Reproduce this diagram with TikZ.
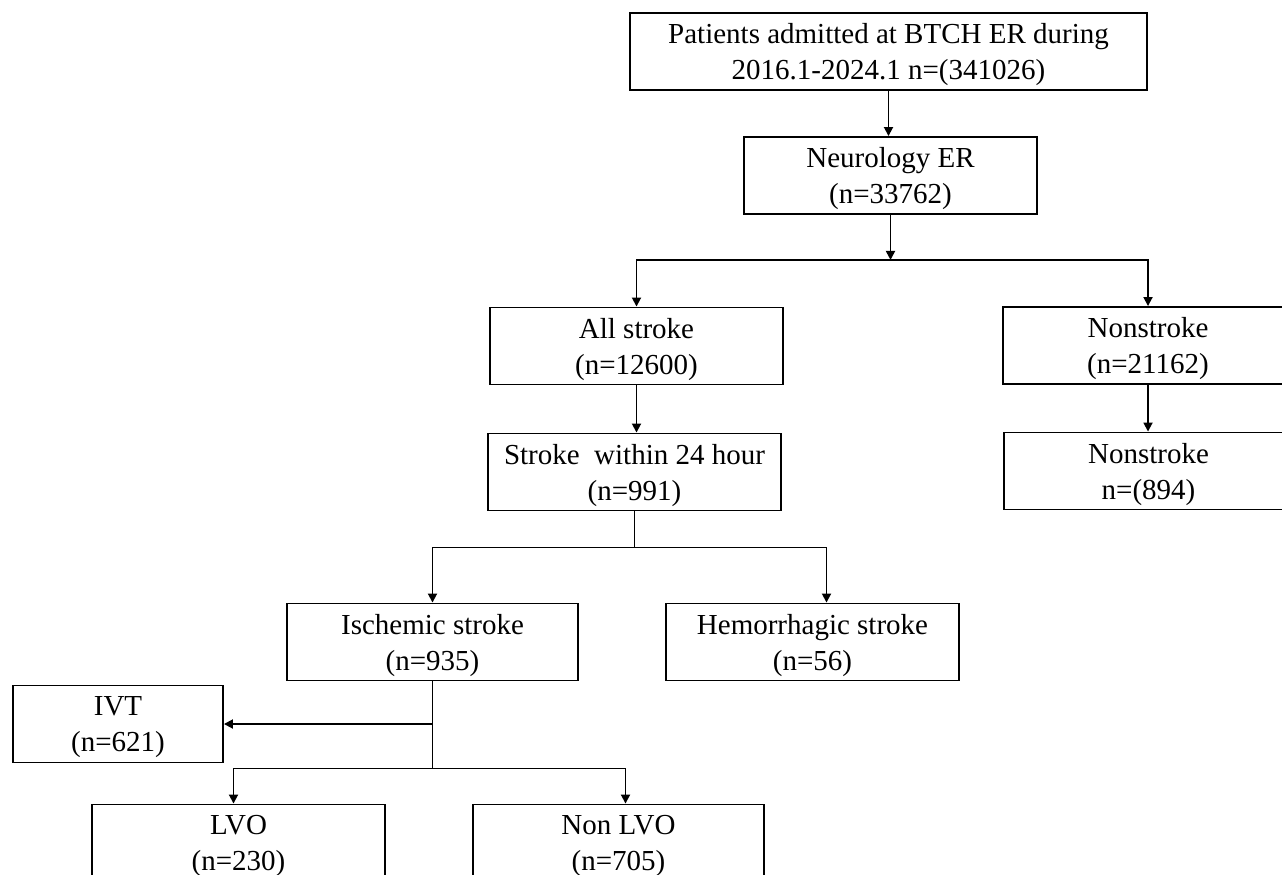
\documentclass[tikz,border=0pt]{standalone}
\usepackage{fontspec}
\setmainfont{Liberation Serif}
\usetikzlibrary{arrows.meta}
\begin{document}
\begin{tikzpicture}[x=1pt,y=-1pt,
  box/.style={draw, line width=1.9pt, align=center, inner sep=0pt,
    minimum height=77pt, text depth=0pt, font=\fontsize{29}{36}\selectfont},
  arr/.style={line width=1.8pt, -{Triangle[length=9pt,width=9pt]}},
  ln/.style={line width=1.8pt}]
\useasboundingbox (0,0) rectangle (1282,875);
\clip (0,0) rectangle (1282,875);

\node[box, minimum width=517pt] (top) at (888.5,51.5)
  {Patients admitted at BTCH ER during\\2016.1-2024.1 n=(341026)};
\node[box, minimum width=293pt] (neuro) at (890.5,175.5) {Neurology ER\\(n=33762)};
\node[box, minimum width=293pt] (allstroke) at (636.5,346) {All stroke\\(n=12600)};
\node[box, minimum width=290pt] (nonstroke) at (1148,345.5) {Nonstroke\\(n=21162)};
\node[box, minimum width=293pt] (s24) at (634.5,472) {Stroke~ within 24 hour\\(n=991)};
\node[box, minimum width=289pt] (nonstroke2) at (1148.5,471) {Nonstroke\\n=(894)};
\node[box, minimum width=291pt] (isch) at (432.5,642) {Ischemic stroke\\(n=935)};
\node[box, minimum width=293pt] (hemo) at (812.5,642) {Hemorrhagic stroke\\(n=56)};
\node[box, minimum width=210pt] (ivt) at (118,724) {IVT\\(n=621)};
\node[box, minimum width=293pt] (lvo) at (238.5,843) {LVO\\(n=230)};
\node[box, minimum width=291pt] (nonlvo) at (618.5,843) {Non LVO\\(n=705)};

% top -> neurology
\draw[arr] (top.south) -- (top.south |- neuro.north);
% neurology -> split
\path (neuro.south) ++(0,45) coordinate (j1);
\draw[arr] (neuro.south) -- (j1);
\draw[arr] (j1) -| (allstroke.north);
\draw[arr] (j1) -| (nonstroke.north);
% vertical chains
\draw[arr] (allstroke.south) -- (allstroke.south |- s24.north);
\draw[arr] (nonstroke.south) -- (nonstroke.south |- nonstroke2.north);
% stroke 24h split
\path (s24.south) ++(0,36) coordinate (j2);
\draw[ln] (s24.south) -- (j2);
\draw[arr] (j2) -| (isch.north);
\draw[arr] (j2) -| ([xshift=14pt]hemo.north);
% ischemic split
\path (isch.south) ++(0,87) coordinate (j3);
\draw[ln] (isch.south) -- (j3);
\draw[arr] (isch.south |- ivt.east) -- (ivt.east);
\draw[arr] (j3) -| ([xshift=-5pt]lvo.north);
\draw[arr] (j3) -| ([xshift=7pt]nonlvo.north);
\end{tikzpicture}
\end{document}
